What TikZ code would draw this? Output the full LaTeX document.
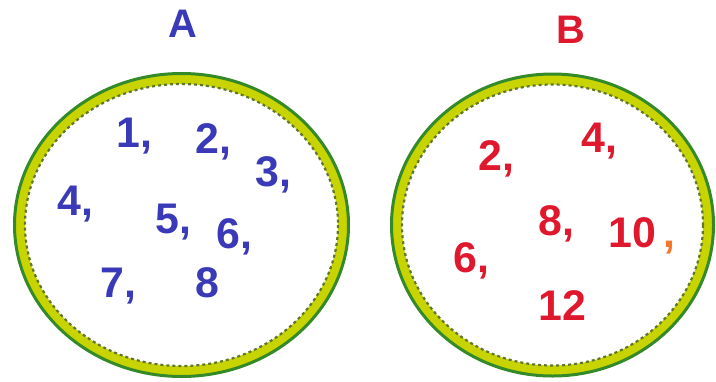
\documentclass[tikz,border=0pt]{standalone}
\usepackage{fontspec}
\setmainfont{Liberation Sans}
\usepackage{xcolor}
\usepackage{tikz}
\usetikzlibrary{positioning}
\definecolor{setblue}{RGB}{58,58,184}
\definecolor{setred}{RGB}{224,24,46}
\definecolor{rimgreen}{RGB}{52,138,40}
\definecolor{rimyellow}{RGB}{200,212,0}
\definecolor{rimdash}{RGB}{96,118,44}
\definecolor{commaorange}{RGB}{240,120,40}

\begin{document}
\begin{tikzpicture}[
  x=1bp,y=-1bp,
  elt/.style={anchor=base west,inner sep=0pt,font=\fontsize{43}{43}\selectfont\bfseries},
  ttl/.style={inner sep=0pt,font=\fontsize{40}{40}\selectfont\bfseries},
  rimband/.style={draw=rimyellow,line width=10bp},
  rimedge/.style={draw=rimgreen,line width=3bp},
  rimdots/.style={draw=rimdash,line width=2.2bp,dash pattern=on 3bp off 3bp}
]
\useasboundingbox (0,0) rectangle (716,381);
% the two sets
\coordinate (cA) at (181.5,225);
\coordinate (cB) at (552.5,225);
\draw[rimband] (cA) ellipse [x radius=161.5, y radius=146];
\draw[rimedge] (cA) ellipse [x radius=167, y radius=151.5];
\draw[rimdots] (cA) ellipse [x radius=156.5, y radius=141];
\draw[rimband] (cB) ellipse [x radius=155.5, y radius=145.5];
\draw[rimedge] (cB) ellipse [x radius=161, y radius=151];
\draw[rimdots] (cB) ellipse [x radius=150.5, y radius=140.5];
\node[ttl,text=setblue] (ttlA) at (183,24) {A};
\node[ttl,text=setred] (ttlB) at (571,30) {B};
% elements of A
\node[elt,text=setblue] (a1) at (116,147) {1,};
\node[elt,text=setblue] (a2) at (195,153) {2,};
\node[elt,text=setblue] (a3) at (255,186) {3,};
\node[elt,text=setblue] (a4) at (57,215) {4,};
\node[elt,text=setblue] (a5) at (155,233) {5,};
\node[elt,text=setblue] (a6) at (216,248) {6,};
\node[elt,text=setblue] (a7) at (100,297) {7,};
\node[elt,text=setblue] (a8) at (195,297) {8};
% elements of B
\node[elt,text=setred] (b2) at (478,170) {2,};
\node[elt,text=setred] (b4) at (581,152) {4,};
\node[elt,text=setred] (b8) at (538,235) {8,};
\node[elt,text=setred] (b10) at (608,247) {10\hspace{8bp}\textcolor{commaorange}{,}};
\node[elt,text=setred] (b6) at (453,272) {6,};
\node[elt,text=setred] (b12) at (538,320) {12};
\end{tikzpicture}
\end{document}
